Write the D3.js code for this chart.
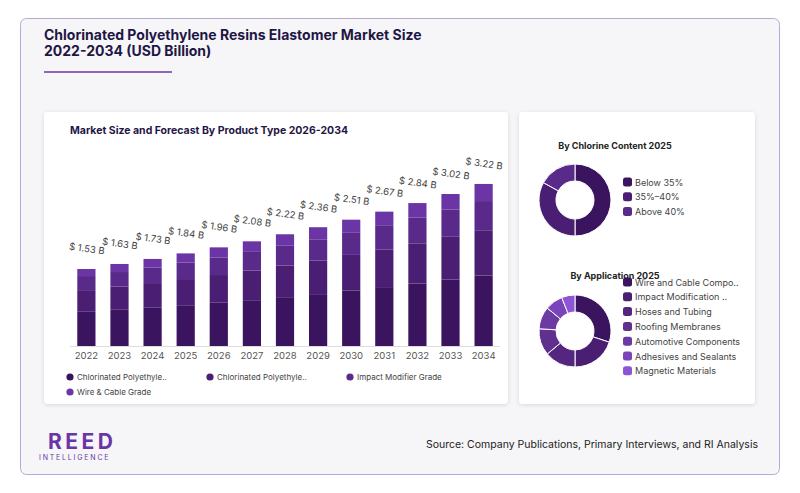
<!DOCTYPE html>
<html><head><meta charset="utf-8">
<script src="https://cdn.jsdelivr.net/npm/d3@7"></script>
<style>body{margin:0;background:#fff;font-family:Inter,"Noto Sans",sans-serif}</style>
</head><body><svg id="c" width="800" height="493"></svg>
<script>
// bar chart data
var years = ["2022","2023","2024","2025","2026","2027","2028","2029","2030","2031","2032","2033","2034"];
var totals = [1.53,1.63,1.73,1.84,1.96,2.08,2.22,2.36,2.51,2.67,2.84,3.02,3.22];
var seriesNames = ["Chlorinated Polyethyle..","Chlorinated Polyethyle..","Impact Modifier Grade","Wire & Cable Grade"];
var seg1 = [0.68,0.72,0.76,0.81,0.86,0.91,0.97,1.03,1.10,1.17,1.24,1.32,1.40];
var seg2 = [0.43,0.46,0.49,0.52,0.55,0.59,0.63,0.67,0.71,0.75,0.80,0.85,0.90];
var seg3 = [0.28,0.29,0.31,0.33,0.35,0.37,0.40,0.42,0.45,0.48,0.51,0.54,0.58];
var seg4 = [0.14,0.16,0.17,0.18,0.20,0.21,0.22,0.24,0.25,0.27,0.29,0.31,0.34];
var barColors = ["#3b1460","#4a1f73","#5a2a8a","#6b35a5"];

// donut data
var chlorineLabels = ["Below 35%","35%–40%","Above 40%"];
var chlorineValues = [50,33,17];
var chlorineColors = ["#3b1460","#4a1f73","#5a2a8a"];
var appLabels = ["Wire and Cable Compo..","Impact Modification ..","Hoses and Tubing","Roofing Membranes","Automotive Components","Adhesives and Sealants","Magnetic Materials"];
var appValues = [30,20,14,12,10,8,6];
var appColors = ["#3b1460","#4a1f73","#55267f","#60308f","#6c3aa3","#7a45bb","#8b55d6"];

var svg = d3.select("#c");

// outer card
svg.append("rect").attr("x",20.5).attr("y",18.5).attr("width",759).attr("height",456).attr("rx",6)
  .attr("fill","#f6f6f8").attr("stroke","#b9a8d6");
svg.append("text").attr("x",44).attr("y",40).attr("font-size",14).attr("font-weight",700).attr("fill","#1f1646")
  .text("Chlorinated Polyethylene Resins Elastomer Market  Size");
svg.append("text").attr("x",44).attr("y",56).attr("font-size",14).attr("font-weight",700).attr("fill","#1f1646")
  .text("2022-2034 (USD Billion)");
svg.append("line").attr("x1",44).attr("x2",172).attr("y1",72).attr("y2",72).attr("stroke","#6b35a5").attr("stroke-width",1.5);

// panels
var defs = svg.append("defs");
var f = defs.append("filter").attr("id","sh").attr("x","-5%").attr("y","-5%").attr("width","110%").attr("height","110%");
f.append("feDropShadow").attr("dx",0).attr("dy",1).attr("stdDeviation",2).attr("flood-color","#000").attr("flood-opacity",0.12);
svg.append("rect").attr("x",44).attr("y",112).attr("width",464).attr("height",292).attr("rx",4).attr("fill","#fff").attr("filter","url(#sh)");
svg.append("rect").attr("x",519).attr("y",112).attr("width",236).attr("height",292).attr("rx",4).attr("fill","#fff").attr("filter","url(#sh)");

svg.append("text").attr("x",70).attr("y",134).attr("font-size",10.5).attr("font-weight",700).attr("fill","#1f1646")
  .text("Market Size and Forecast By Product Type 2026-2034");

// stacked bars
var x = d3.scaleBand().domain(years).range([70,500]).paddingInner(0.45).paddingOuter(0.22);
var y = d3.scaleLinear().domain([0,1.53]).range([346,269]);
var rows = years.map(function(yr,i){ return {year:yr, s0:seg1[i], s1:seg2[i], s2:seg3[i], s3:seg4[i]}; });
var stack = d3.stack().keys(["s0","s1","s2","s3"])(rows);
var g = svg.append("g");
stack.forEach(function(layer,k){
  g.selectAll(null).data(layer).enter().append("rect")
    .attr("x",function(d){return x(d.data.year);})
    .attr("width",x.bandwidth())
    .attr("y",function(d){return y(d[1]);})
    .attr("height",function(d){return y(d[0])-y(d[1]);})
    .attr("fill",barColors[k]);
});
svg.append("line").attr("x1",70).attr("x2",500).attr("y1",346.5).attr("y2",346.5).attr("stroke","#ddd");
var xa = svg.append("g").attr("transform","translate(0,346)").call(d3.axisBottom(x).tickSize(0).tickPadding(6));
xa.select(".domain").remove();
xa.selectAll("text").attr("font-size",9.5).attr("fill","#555").attr("font-family","Inter,sans-serif");

// total labels
svg.selectAll(null).data(years).enter().append("text")
  .attr("transform",function(d,i){
    var cx = x(d)+x.bandwidth()/2, cy = y(totals[i]) - 17;
    return "translate("+cx+","+cy+") rotate(8)";
  })
  .attr("text-anchor","middle").attr("font-size",9.5).attr("fill","#444")
  .text(function(d,i){return "$ "+totals[i].toFixed(2)+" B";});

// bar legend
var legPos = [[70,377],[210,377],[350,377],[70,392]];
seriesNames.forEach(function(n,i){
  svg.append("circle").attr("cx",legPos[i][0]).attr("cy",legPos[i][1]).attr("r",3.6).attr("fill",barColors[i]);
  svg.append("text").attr("x",legPos[i][0]+7).attr("y",legPos[i][1]+3).attr("font-size",8).attr("fill","#444").text(n);
});

// donuts
function donut(cx,cy,values,colors,labels,legY,title,titleY){
  svg.append("text").attr("x",cx+40).attr("y",titleY).attr("text-anchor","middle").attr("font-size",9).attr("font-weight",700).attr("fill","#222").text(title);
  var pie = d3.pie().sort(null)(values);
  var arc = d3.arc().innerRadius(19).outerRadius(36);
  svg.append("g").attr("transform","translate("+cx+","+cy+")").selectAll("path").data(pie).enter().append("path")
    .attr("d",arc).attr("fill",function(d,i){return colors[i];}).attr("stroke","#fff").attr("stroke-width",1);
  labels.forEach(function(l,i){
    var yy = legY + i*14.8;
    svg.append("rect").attr("x",623).attr("y",yy-4.5).attr("width",9).attr("height",9).attr("rx",2.5).attr("fill",colors[i]);
    svg.append("text").attr("x",635).attr("y",yy+3.5).attr("font-size",9).attr("fill","#444").text(l);
  });
}
donut(575,200,chlorineValues,chlorineColors,chlorineLabels,182,"By Chlorine Content 2025",149);
donut(575,331,appValues,appColors,appLabels,282,"By Application 2025",279);

// footer
svg.append("text").attr("x",48).attr("y",449).attr("font-size",21).attr("font-weight",700).attr("letter-spacing",3.5).attr("fill","#6b35a5").text("REED");
svg.append("text").attr("x",39).attr("y",460).attr("font-size",7).attr("letter-spacing",1.8).attr("fill","#6b35a5").text("INTELLIGENCE");
svg.append("text").attr("x",758).attr("y",448).attr("text-anchor","end").attr("font-size",10.5).attr("fill","#222")
  .text("Source: Company Publications, Primary Interviews, and RI Analysis");
</script></body></html>
